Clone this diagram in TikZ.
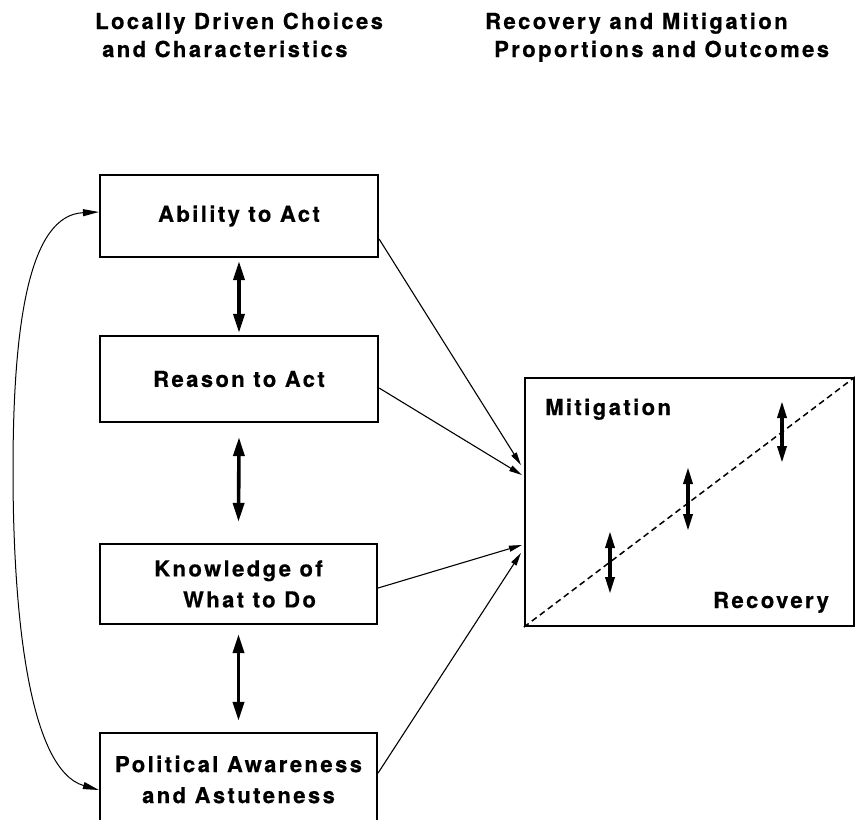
\documentclass[tikz,border=0pt]{standalone}
\usepackage{fontspec}
\setmainfont{TeX Gyre Heros}[LetterSpace=11, BoldFeatures={FakeBold=0.6}]
\usetikzlibrary{arrows.meta,calc}
\begin{document}
\begin{tikzpicture}[x=1pt,y=-1pt,
  box/.style={draw, line width=2.2pt, inner sep=0pt, align=center,
    font=\fontsize{22}{31}\selectfont\bfseries},
  hdr/.style={inner sep=0pt, anchor=base west, font=\fontsize{22}{27}\selectfont\bfseries},
  link/.style={line width=1.1pt, -{Triangle[length=13pt,width=6pt]}},
  dbl/.style={line width=3.6pt, {Triangle[length=19pt,width=11pt]}-{Triangle[length=19pt,width=11pt]}},
  sdbl/.style={line width=3.4pt, {Triangle[length=17pt,width=9pt]}-{Triangle[length=17pt,width=9pt]}},
  loopline/.style={line width=1pt, {Triangle[length=16pt,width=7pt]}-{Triangle[length=16pt,width=7pt]}},
  diag/.style={line width=1.5pt, dash pattern=on 6pt off 4pt}]
\useasboundingbox (0,0) rectangle (855,820);
\clip (0,0) rectangle (855,820);
\fill[white] (0,0) rectangle (855,820);

% headers
\node[hdr] (h1a) at (95,29) {Locally Driven Choices};
\node[hdr] (h1b) at (102,57) {and Characteristics};
\node[hdr] (h2a) at (485,29) {Recovery and Mitigation};
\node[hdr] (h2b) at (494,57) {Proportions and Outcomes};

% left boxes
\node[box, minimum width=278pt, minimum height=82pt] (ability) at (239,216) {Ability to Act};
\node[box, minimum width=278pt, minimum height=86pt] (reason) at (239,379) {Reason to Act};
\node[box, minimum width=277pt, minimum height=80pt] (know) at (238.5,584) {Knowledge of\\\hspace*{22pt}What to Do};
\node[box, minimum width=277pt, minimum height=93pt] (polit) at (238.5,779.5) {Political Awareness\\and Astuteness};

% outcome box
\node[draw, line width=2.2pt, inner sep=0pt, minimum width=329pt, minimum height=248pt] (outcome) at (689.5,502) {};
\node[hdr] (mit) at (545,415) {Mitigation};
\node[hdr] (rec) at (713,608) {Recovery};
\draw[diag] (outcome.south west) -- (outcome.north east);

% small double arrows on the diagonal
\coordinate (m1t) at (610,531); \coordinate (m1b) at (610,594);
\coordinate (m2t) at (688,467); \coordinate (m2b) at (688,531);
\coordinate (m3t) at (782,401); \coordinate (m3b) at (782,463);
\draw[sdbl] (m1t) -- (m1b);
\draw[sdbl] (m2t) -- (m2b);
\draw[sdbl] (m3t) -- (m3b);

% vertical double arrows
\draw[dbl] ([yshift=-3pt]ability.south) -- ([yshift=2pt]reason.north);
\draw[dbl] ([yshift=-14pt]reason.south) -- ([yshift=21pt]know.north);
\draw[dbl] ([yshift=-9pt]know.south) -- ([yshift=11pt]polit.north);

% links to outcome box
\draw[link] ($(ability.east)+(0,23)$) -- ($(outcome.west)+(-3,-37)$);
\draw[link] ($(reason.east)+(0,9)$) -- ($(outcome.west)+(-2,-27)$);
\draw[link] ($(know.east)+(0,4)$) -- ($(outcome.west)+(-2,43)$);
\draw[link] ($(polit.east)+(0,-6.5)$) -- ($(outcome.west)+(-3,51)$);

% feedback loop
\draw[loopline] ([yshift=4pt]ability.west) .. controls (30,215) and (13,320) .. (13,470)
  .. controls (13,620) and (30,770) .. ([yshift=-10.5pt]polit.west);
\end{tikzpicture}
\end{document}
